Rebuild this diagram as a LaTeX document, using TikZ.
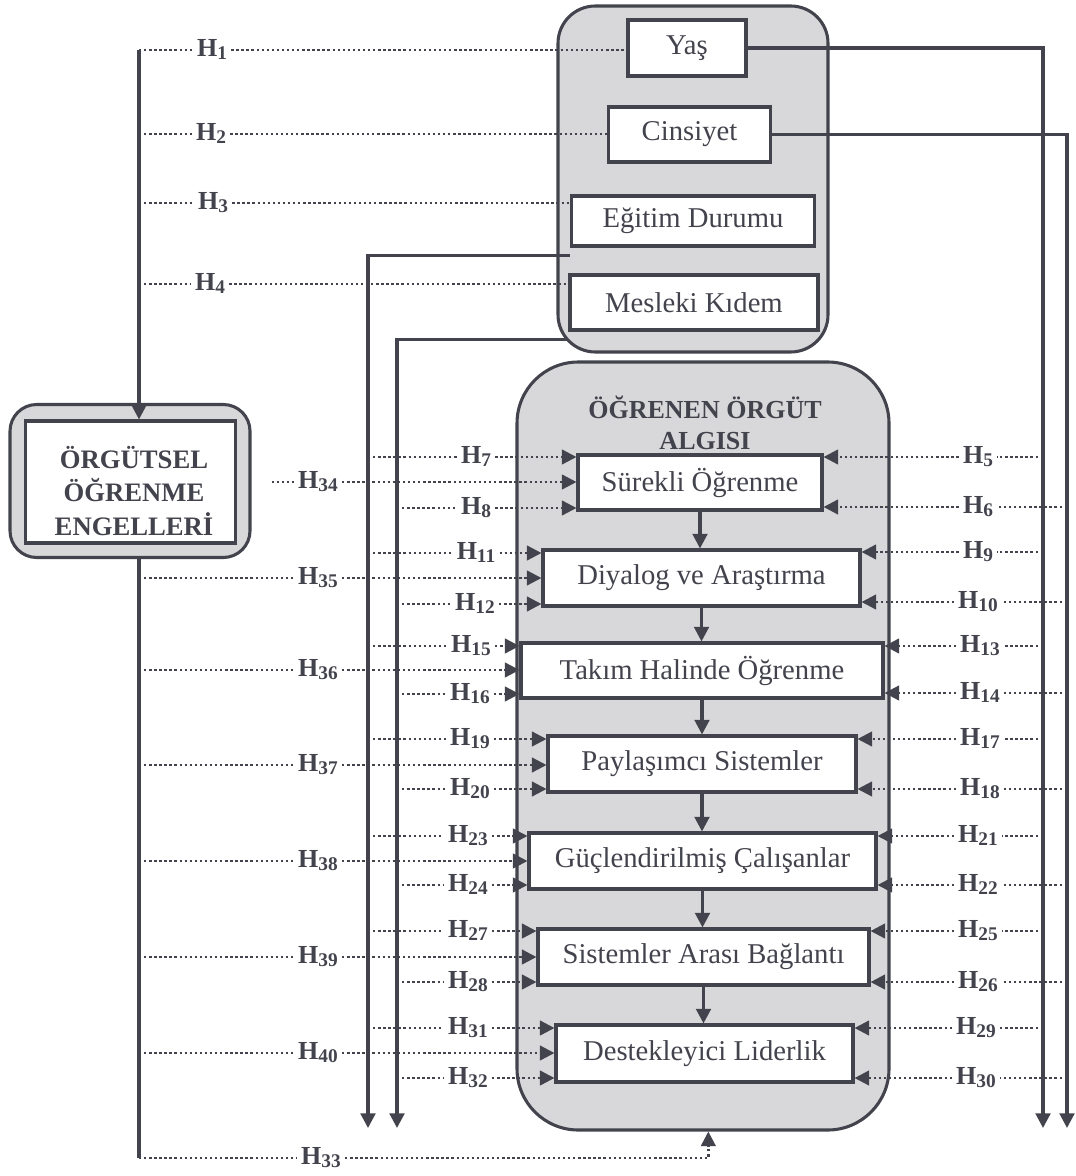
\documentclass[tikz,border=0pt]{standalone}
\usepackage{fontspec}
\setmainfont{Liberation Serif}
\usepackage{xcolor}
\usetikzlibrary{arrows.meta}

\definecolor{inkc}{RGB}{66,67,76}
\definecolor{shadec}{RGB}{216,216,218}
\newcommand{\hlab}[1]{H\raisebox{-2.8pt}{\fontsize{14.5}{14.5}\selectfont #1}}

\tikzset{
  solidln/.style={draw=inkc, line width=2.3pt},
  dotln/.style={draw=inkc, line width=1.9pt, dash pattern=on 1.8pt off 2pt},
  arrowhd/.style={-{Triangle[length=11pt,width=11pt]}},
  grp/.style={solidln, fill=shadec},
  itembox/.style={solidln, fill=white, text=inkc, inner sep=0pt, font=\fontsize{21.5}{26}\selectfont},
  hlbl/.style={text=inkc, inner xsep=3pt, inner ysep=0pt, text height=12.5pt, text depth=3.3pt, font=\fontsize{19.5}{22}\selectfont\bfseries},
  ttl/.style={text=inkc, align=center, font=\fontsize{20}{25}\selectfont\bfseries},
}

\begin{document}
\begin{tikzpicture}[x=0.75pt,y=0.75pt,yscale=-1,xscale=1]

\useasboundingbox (0,0) rectangle (1075,1176);

\node[grp, rounded corners=28pt, minimum width=202.5pt, minimum height=259.5pt] (grpTop) at (693,179) {};
\node[grp, rounded corners=46pt, minimum width=279pt, minimum height=576pt] (algi) at (703,746) {};
\node[grp, rounded corners=20pt, minimum width=180pt, minimum height=114.75pt] (orgOut) at (130,481) {};
\node[itembox, minimum width=157.5pt, minimum height=91.5pt] (orgIn) at (130.5,482) {};
\node[ttl] (orgTxt) at (134,491) {ÖRGÜTSEL\\ÖĞRENME\\ENGELLERİ};
\node[ttl, font=\fontsize{19.5}{23.5}\selectfont\bfseries] (algiTtl) at (705,423) {ÖĞRENEN ÖRGÜT\\ALGISI};

\node[itembox, minimum width=88.5pt, minimum height=42pt] (yas) at (687,48) {Yaş};
\node[itembox, minimum width=121.5pt, minimum height=41.25pt] (cins) at (689.5,134.5) {Cinsiyet};
\node[itembox, minimum width=182.25pt, minimum height=37.5pt] (egit) at (693,221) {Eğitim Durumu};
\node[itembox, minimum width=186pt, minimum height=41.25pt] (kidem) at (694,302.5) {Mesleki Kıdem};

\node[itembox, minimum width=183pt, minimum height=41.25pt] (surekli) at (700,482.5) {Sürekli Öğrenme};
\node[itembox, minimum width=237.75pt, minimum height=42pt] (diyalog) at (701.5,578) {Diyalog ve Araştırma};
\node[itembox, minimum width=271.5pt, minimum height=41.25pt] (takim) at (702,670.5) {Takım Halinde Öğrenme};
\node[itembox, minimum width=231pt, minimum height=42pt] (paylas) at (702,764) {Paylaşımcı Sistemler};
\node[itembox, minimum width=260.25pt, minimum height=42pt] (guclu) at (702.5,861) {Güçlendirilmiş Çalışanlar};
\node[itembox, minimum width=248.25pt, minimum height=42pt] (sistem) at (703.5,957) {Sistemler Arası Bağlantı};
\node[itembox, minimum width=222.75pt, minimum height=42.75pt] (lider) at (704.5,1053.5) {Destekleyici Liderlik};

\coordinate (lineTop) at (139,50);
\coordinate (lineBot) at (139,1158);
\coordinate (yasEnd) at (1043,1128);
\coordinate (cinsEnd) at (1067,1128);
\coordinate (egitEnd) at (368,1128);
\coordinate (kidemEnd) at (397,1128);
\coordinate (egitOut) at ([yshift=6pt]egit.south west);
\coordinate (kidemOut) at ([yshift=6pt]kidem.south west);
\coordinate (orgGap) at ([xshift=15pt]orgOut.east);
\coordinate (algiIn) at ([xshift=4pt]algi.south);

\draw[solidln, arrowhd] (lineTop) -- (lineTop |- orgIn.north);
\draw[solidln] (lineTop |- orgOut.south) -- (lineBot);
\draw[solidln, arrowhd] (yas.east) -- (yas.east -| yasEnd) -- (yasEnd);
\draw[solidln, arrowhd] (cins.east) -- (cins.east -| cinsEnd) -- (cinsEnd);
\draw[solidln, arrowhd] (egitOut) -- (egitOut -| egitEnd) -- (egitEnd);
\draw[solidln, arrowhd] (kidemOut) -- (kidemOut -| kidemEnd) -- (kidemEnd);

\draw[solidln, arrowhd] (surekli.south) -- (surekli.south |- diyalog.north);
\draw[solidln, arrowhd] (diyalog.south) -- (diyalog.south |- takim.north);
\draw[solidln, arrowhd] (takim.south) -- (takim.south |- paylas.north);
\draw[solidln, arrowhd] (paylas.south) -- (paylas.south |- guclu.north);
\draw[solidln, arrowhd] (guclu.south) -- (guclu.south |- sistem.north);
\draw[solidln, arrowhd] (sistem.south) -- (sistem.south |- lider.north);

\node[hlbl] (h1) at (212,50) {\hlab{1}};
\node[hlbl] (h2) at (211,134) {\hlab{2}};
\node[hlbl] (h3) at (213,203) {\hlab{3}};
\node[hlbl] (h4) at (210,284) {\hlab{4}};
\draw[dotln] (lineTop) -- (h1) -- (h1 -| yas.west);
\draw[dotln] (lineTop |- h2) -- (h2) -- (h2 -| cins.west);
\draw[dotln] (lineTop |- h3) -- (h3) -- (h3 -| egit.west);
\draw[dotln] (lineTop |- h4) -- (h4) -- (h4 -| kidem.west);

\node[hlbl] (h34) at (318,482) {\hlab{34}};
\node[hlbl] (h35) at (318,578) {\hlab{35}};
\node[hlbl] (h36) at (318,670) {\hlab{36}};
\node[hlbl] (h37) at (318,765) {\hlab{37}};
\node[hlbl] (h38) at (318,861) {\hlab{38}};
\node[hlbl] (h39) at (318,957) {\hlab{39}};
\node[hlbl] (h40) at (318,1053) {\hlab{40}};
\node[hlbl] (h33) at (321,1158) {\hlab{33}};
\draw[dotln, arrowhd] (orgGap |- h34) -- (h34) -- (h34 -| surekli.west);
\draw[dotln, arrowhd] (lineTop |- h35) -- (h35) -- (h35 -| diyalog.west);
\draw[dotln, arrowhd] (lineTop |- h36) -- (h36) -- (h36 -| takim.west);
\draw[dotln, arrowhd] (lineTop |- h37) -- (h37) -- (h37 -| paylas.west);
\draw[dotln, arrowhd] (lineTop |- h38) -- (h38) -- (h38 -| guclu.west);
\draw[dotln, arrowhd] (lineTop |- h39) -- (h39) -- (h39 -| sistem.west);
\draw[dotln, arrowhd] (lineTop |- h40) -- (h40) -- (h40 -| lider.west);
\draw[dotln, arrowhd] (lineBot) -- (h33) -- (h33 -| algiIn) -- (algiIn);

\node[hlbl] (h7) at (476,457) {\hlab{7}};
\node[hlbl] (h8) at (476,508) {\hlab{8}};
\node[hlbl] (h11) at (476,553) {\hlab{11}};
\node[hlbl] (h12) at (475,604) {\hlab{12}};
\node[hlbl] (h15) at (471,646) {\hlab{15}};
\node[hlbl] (h16) at (470,694) {\hlab{16}};
\node[hlbl] (h19) at (470,739) {\hlab{19}};
\node[hlbl] (h20) at (470,789) {\hlab{20}};
\node[hlbl] (h23) at (468,836) {\hlab{23}};
\node[hlbl] (h24) at (468,885) {\hlab{24}};
\node[hlbl] (h27) at (468,931) {\hlab{27}};
\node[hlbl] (h28) at (468,982) {\hlab{28}};
\node[hlbl] (h31) at (468,1028) {\hlab{31}};
\node[hlbl] (h32) at (468,1078) {\hlab{32}};
\draw[dotln, arrowhd] (egitEnd |- h7) -- (h7) -- (h7 -| surekli.west);
\draw[dotln, arrowhd] (kidemEnd |- h8) -- (h8) -- (h8 -| surekli.west);
\draw[dotln, arrowhd] (egitEnd |- h11) -- (h11) -- (h11 -| diyalog.west);
\draw[dotln, arrowhd] (kidemEnd |- h12) -- (h12) -- (h12 -| diyalog.west);
\draw[dotln, arrowhd] (egitEnd |- h15) -- (h15) -- (h15 -| takim.west);
\draw[dotln, arrowhd] (kidemEnd |- h16) -- (h16) -- (h16 -| takim.west);
\draw[dotln, arrowhd] (egitEnd |- h19) -- (h19) -- (h19 -| paylas.west);
\draw[dotln, arrowhd] (kidemEnd |- h20) -- (h20) -- (h20 -| paylas.west);
\draw[dotln, arrowhd] (egitEnd |- h23) -- (h23) -- (h23 -| guclu.west);
\draw[dotln, arrowhd] (kidemEnd |- h24) -- (h24) -- (h24 -| guclu.west);
\draw[dotln, arrowhd] (egitEnd |- h27) -- (h27) -- (h27 -| sistem.west);
\draw[dotln, arrowhd] (kidemEnd |- h28) -- (h28) -- (h28 -| sistem.west);
\draw[dotln, arrowhd] (egitEnd |- h31) -- (h31) -- (h31 -| lider.west);
\draw[dotln, arrowhd] (kidemEnd |- h32) -- (h32) -- (h32 -| lider.west);

\node[hlbl] (h5) at (978,457) {\hlab{5}};
\node[hlbl] (h6) at (978,507) {\hlab{6}};
\node[hlbl] (h9) at (978,552) {\hlab{9}};
\node[hlbl] (h10) at (978,602) {\hlab{10}};
\node[hlbl] (h13) at (980,646) {\hlab{13}};
\node[hlbl] (h14) at (980,693) {\hlab{14}};
\node[hlbl] (h17) at (980,739) {\hlab{17}};
\node[hlbl] (h18) at (980,789) {\hlab{18}};
\node[hlbl] (h21) at (978,836) {\hlab{21}};
\node[hlbl] (h22) at (978,885) {\hlab{22}};
\node[hlbl] (h25) at (978,931) {\hlab{25}};
\node[hlbl] (h26) at (978,982) {\hlab{26}};
\node[hlbl] (h29) at (976,1028) {\hlab{29}};
\node[hlbl] (h30) at (976,1078) {\hlab{30}};
\draw[dotln, arrowhd] (yasEnd |- h5) -- (h5) -- (h5 -| surekli.east);
\draw[dotln, arrowhd] (cinsEnd |- h6) -- (h6) -- (h6 -| surekli.east);
\draw[dotln, arrowhd] (yasEnd |- h9) -- (h9) -- (h9 -| diyalog.east);
\draw[dotln, arrowhd] (cinsEnd |- h10) -- (h10) -- (h10 -| diyalog.east);
\draw[dotln, arrowhd] (yasEnd |- h13) -- (h13) -- (h13 -| takim.east);
\draw[dotln, arrowhd] (cinsEnd |- h14) -- (h14) -- (h14 -| takim.east);
\draw[dotln, arrowhd] (yasEnd |- h17) -- (h17) -- (h17 -| paylas.east);
\draw[dotln, arrowhd] (cinsEnd |- h18) -- (h18) -- (h18 -| paylas.east);
\draw[dotln, arrowhd] (yasEnd |- h21) -- (h21) -- (h21 -| guclu.east);
\draw[dotln, arrowhd] (cinsEnd |- h22) -- (h22) -- (h22 -| guclu.east);
\draw[dotln, arrowhd] (yasEnd |- h25) -- (h25) -- (h25 -| sistem.east);
\draw[dotln, arrowhd] (cinsEnd |- h26) -- (h26) -- (h26 -| sistem.east);
\draw[dotln, arrowhd] (yasEnd |- h29) -- (h29) -- (h29 -| lider.east);
\draw[dotln, arrowhd] (cinsEnd |- h30) -- (h30) -- (h30 -| lider.east);

\end{tikzpicture}
\end{document}
